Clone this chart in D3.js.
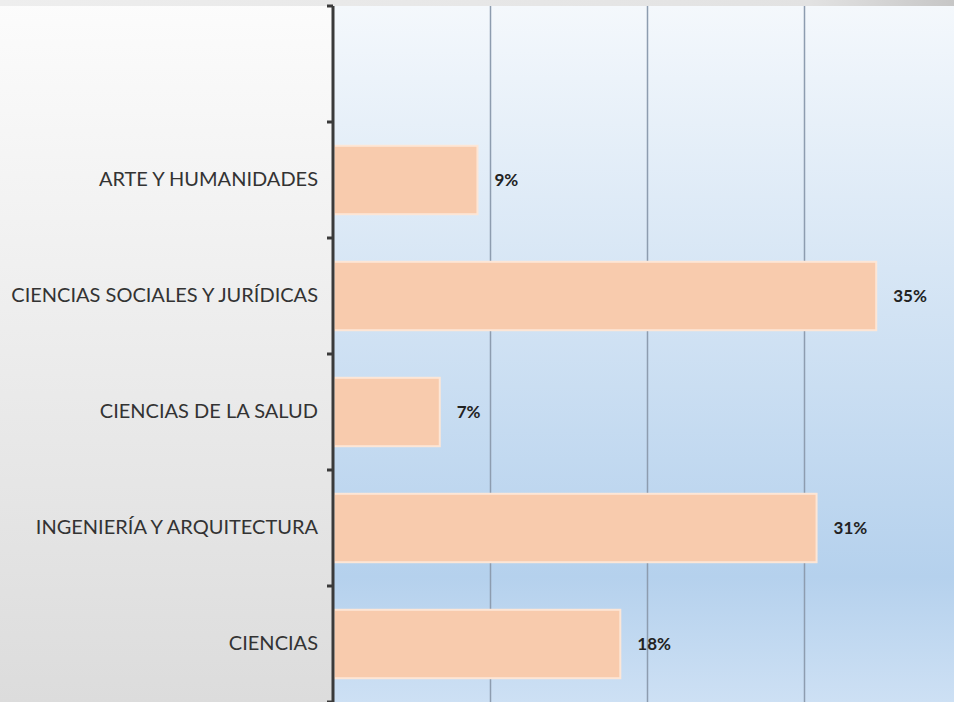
<!DOCTYPE html>
<html>
<head>
<meta charset="utf-8">
<script src="https://cdn.jsdelivr.net/npm/d3@7"></script>
<style>
  html, body { margin: 0; padding: 0; background: #ffffff; }
  svg { display: block; }
</style>
</head>
<body>
<div class="figure"></div>
<script>
// categories top -> bottom, share of students
var categories = ["ARTE Y HUMANIDADES", "CIENCIAS SOCIALES Y JURÍDICAS", "CIENCIAS DE LA SALUD",
                  "INGENIERÍA Y ARQUITECTURA", "CIENCIAS"]
var shares = [0.092, 0.346, 0.068, 0.308, 0.183]
var gridTicks = [0.1, 0.2, 0.3]

var dim = { w: 954, h: 702 }

var plot = {
    left: 333,
    top: 6,
    bottom: 702,
}

var svg = d3.select("div.figure")
    .append("svg")
    .attr("width", dim.w)
    .attr("height", dim.h)

var defs = svg.append("defs")

var bgGrad = defs.append("linearGradient")
    .attr("id", "bg-grad")
    .attr("x1", "0%").attr("y1", "0%")
    .attr("x2", "0%").attr("y2", "100%")
bgGrad.append("stop").attr("offset", 0).attr("stop-color", "#fcfcfc")
bgGrad.append("stop").attr("offset", 1).attr("stop-color", "#dcdcdc")

var plotGrad = defs.append("linearGradient")
    .attr("id", "plot-grad")
    .attr("x1", "0%").attr("y1", "0%")
    .attr("x2", "0%").attr("y2", "100%")
plotGrad.append("stop").attr("offset", 0).attr("stop-color", "#f4f8fc")
plotGrad.append("stop").attr("offset", 0.82).attr("stop-color", "#b5d1ed")
plotGrad.append("stop").attr("offset", 1).attr("stop-color", "#cde0f4")

var topGrad = defs.append("linearGradient")
    .attr("id", "top-grad")
    .attr("x1", "0%").attr("y1", "0%")
    .attr("x2", "100%").attr("y2", "0%")
topGrad.append("stop").attr("offset", 0).attr("stop-color", "#eeeeee")
topGrad.append("stop").attr("offset", 0.85).attr("stop-color", "#e2e2e2")
topGrad.append("stop").attr("offset", 1).attr("stop-color", "#c6c6c6")

// backgrounds
svg.append("rect")
    .attr("width", dim.w).attr("height", dim.h)
    .style("fill", "url(#bg-grad)")

svg.append("rect")
    .attr("x", plot.left).attr("y", plot.top)
    .attr("width", dim.w - plot.left).attr("height", plot.bottom - plot.top)
    .style("fill", "url(#plot-grad)")

svg.append("rect")
    .attr("x", 0).attr("y", 0)
    .attr("width", dim.w).attr("height", plot.top)
    .style("fill", "url(#top-grad)")

// scales
var xScale = d3.scaleLinear()
    .domain([0, 0.4])
    .range([plot.left, 961])

var yScale = d3.scaleBand()
    .domain(categories)
    .range([122, plot.bottom])
    .paddingInner(0.41)
    .paddingOuter(0.205)

// gridlines
svg.append("g")
    .attr("class", "grid")
    .selectAll("line")
    .data(gridTicks)
    .enter()
    .append("line")
    .attr("x1", function(d) { return Math.round(xScale(d)) + 0.5 })
    .attr("x2", function(d) { return Math.round(xScale(d)) + 0.5 })
    .attr("y1", plot.top)
    .attr("y2", plot.bottom)
    .attr("stroke", "#8d9caf")
    .attr("stroke-width", 1.5)

// bars
svg.append("g")
    .attr("class", "bars")
    .selectAll("rect")
    .data(categories)
    .enter()
    .append("rect")
    .attr("x", xScale(0) + 1)
    .attr("y", function(d) { return yScale(d) })
    .attr("width", function(d, i) { return xScale(shares[i]) - xScale(0) - 1 })
    .attr("height", yScale.bandwidth())
    .attr("fill", "#f8cbad")
    .attr("stroke", "#fde6d6")
    .attr("stroke-width", 2)

// value labels
var fmt = d3.format(".0%")
svg.append("g")
    .attr("class", "values")
    .selectAll("text")
    .data(categories)
    .enter()
    .append("text")
    .attr("x", function(d, i) { return xScale(shares[i]) + 17 })
    .attr("y", function(d) { return yScale(d) + yScale.bandwidth() / 2 })
    .attr("dy", "0.36em")
    .style("font-family", "Lato, 'Open Sans', sans-serif")
    .style("font-size", "17px")
    .style("font-weight", "bold")
    .style("fill", "#222222")
    .text(function(d, i) { return fmt(shares[i]) })

// y axis
var yAxis = d3.axisLeft()
    .scale(yScale)
    .tickSize(0)
    .tickPadding(15)

var yG = svg.append("g")
    .attr("class", "y axis")
    .attr("transform", "translate(" + plot.left + ",0)")
    .call(yAxis)

yG.select("path.domain").remove()
yG.selectAll("text")
    .style("font-family", "Lato, 'Open Sans', sans-serif")
    .style("font-size", "20px")
    .style("fill", "#333333")

// axis line and boundary ticks
var step = yScale.step()
var boundaries = d3.range(categories.length + 2).map(function(i) {
    return yScale.range()[0] - step + i * step
})

svg.append("line")
    .attr("x1", plot.left).attr("x2", plot.left)
    .attr("y1", plot.top).attr("y2", plot.bottom)
    .attr("stroke", "#3a3a3a")
    .attr("stroke-width", 3)

svg.append("g")
    .attr("class", "boundary ticks")
    .selectAll("line")
    .data(boundaries)
    .enter()
    .append("line")
    .attr("x1", plot.left - 6).attr("x2", plot.left)
    .attr("y1", function(d) { return d }).attr("y2", function(d) { return d })
    .attr("stroke", "#3a3a3a")
    .attr("stroke-width", 3)
</script>
</body>
</html>
